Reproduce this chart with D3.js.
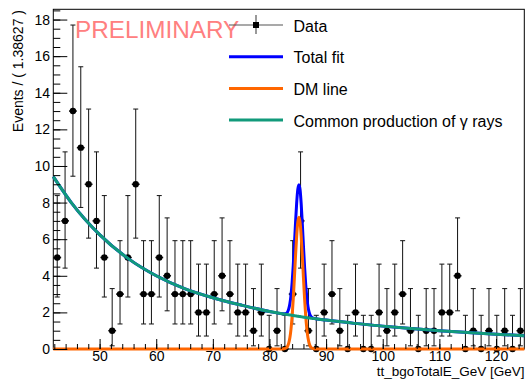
<!DOCTYPE html>
<html>
<head>
<meta charset="utf-8">
<script src="https://cdn.jsdelivr.net/npm/d3@7"></script>
<style>
  body { margin: 0; background: #fff; }
  text { font-family: "Liberation Sans", Arial, sans-serif; }
</style>
</head>
<body>
<div id="plot"></div>
<script>
// Binned data (60 bins of 1.38627 GeV ending at 125 GeV)
var binWidth = 1.38627;
var xMax = 125;
var counts = [5, 7, 13, 11, 9, 7, 5, 1, 3, 5,
              9, 3, 3, 5, 4, 3, 3, 3, 2, 2,
              3, 4, 3, 2, 2, 1, 2, 0, 1, 0,
              3, 7, 1, 0, 2, 3, 1, 0, 2, 0,
              0, 2, 1, 2, 3, 1, 0, 1, 1, 2,
              2, 4, 0, 1, 0, 1, 0, 1, 0, 1];

// Poisson (Garwood 68%) interval ends, indexed by count
var poissonLow  = [0, 0.173, 0.708, 1.367, 2.086, 2.840, 3.620, 4.419, 5.232, 6.057, 6.891, 7.734, 8.585, 9.441];
var poissonHigh = [1.841, 3.300, 4.638, 5.918, 7.163, 8.382, 9.584, 10.77, 11.95, 13.11, 14.27, 15.42, 16.56, 17.70];

// Fit curves
var fitX  = [41.82, 45, 50, 55, 60, 65, 70, 75, 80, 82.2, 82.6, 82.8, 83.0, 83.2, 83.4, 83.6, 83.8, 84.0, 84.2, 84.4, 84.6, 84.8, 85.0,
             85.2, 85.4, 85.6, 85.8, 86.0, 86.2, 86.4, 86.6, 86.8, 87.0, 87.2, 87.4, 87.6, 87.8, 88.2, 90, 95, 100, 105, 110, 115, 120, 125];
var bgFit = [9.42, 8.0, 6.25, 4.95, 4.0, 3.3, 2.8, 2.4, 2.05, 1.93, 1.91, 1.9, 1.89, 1.88, 1.87, 1.86, 1.85, 1.84, 1.83, 1.82, 1.81, 1.8, 1.79,
             1.78, 1.77, 1.76, 1.75, 1.74, 1.73, 1.72, 1.71, 1.7, 1.7, 1.69, 1.68, 1.67, 1.67, 1.65, 1.58, 1.4, 1.25, 1.12, 1.0, 0.9, 0.81, 0.73];
var dmFit = [0, 0, 0, 0, 0, 0, 0, 0, 0, 0, 0.01, 0.03, 0.07, 0.15, 0.32, 0.61, 1.09, 1.80, 2.74, 3.88, 5.09, 6.17, 6.93,
             7.2, 6.93, 6.17, 5.09, 3.88, 2.74, 1.80, 1.09, 0.61, 0.32, 0.15, 0.07, 0.03, 0.01, 0, 0, 0, 0, 0, 0, 0, 0, 0];

var legendLabels = ["Data", "Total fit", "DM line", "Common production of \u03b3 rays"];
var legendColors = ["#555", "#0000ff", "#ff6600", "#119a7b"];

// Set dimensions and margins
var margin = {top: 9.3, right: 1.7, bottom: 30, left: 53.3};
var width = 526 - margin.left - margin.right;
var height = 379 - margin.top - margin.bottom;

var svg = d3.select("#plot")
    .append("svg")
    .attr("width", 526)
    .attr("height", 379);

var chartGroup = svg.append("g")
    .attr("transform", `translate(${margin.left}, ${margin.top})`);

var xMin = xMax - counts.length * binWidth;
var x = d3.scaleLinear().domain([xMin, xMax]).range([0, width]);
var y = d3.scaleLinear().domain([0, 18.56]).range([height, 0]);

var data = counts.map(function(n, i) {
    return {x: xMin + (i + 0.5) * binWidth, n: n, lo: poissonLow[n], hi: poissonHigh[n]};
});

// Frame
chartGroup.append("rect")
    .attr("width", width)
    .attr("height", height)
    .attr("fill", "none")
    .attr("stroke", "#000")
    .attr("stroke-width", 1);

// PRELIMINARY stamp
chartGroup.append("text")
    .attr("x", 75 - margin.left)
    .attr("y", 38 - margin.top)
    .attr("font-size", 24.3)
    .attr("fill", "#ff8080")
    .text("PRELIMINARY");

// Data points with error bars
var pts = chartGroup.append("g").attr("stroke", "#111").attr("stroke-width", 1);
pts.selectAll(".vbar").data(data).enter().append("line")
    .attr("x1", d => x(d.x)).attr("x2", d => x(d.x))
    .attr("y1", d => y(d.lo)).attr("y2", d => y(d.hi));
pts.selectAll(".cap-hi").data(data).enter().append("line")
    .attr("x1", d => x(d.x) - 2.5).attr("x2", d => x(d.x) + 2.5)
    .attr("y1", d => y(d.hi)).attr("y2", d => y(d.hi));
pts.selectAll(".cap-lo").data(data.filter(d => d.n > 0)).enter().append("line")
    .attr("x1", d => x(d.x) - 2.5).attr("x2", d => x(d.x) + 2.5)
    .attr("y1", d => y(d.lo)).attr("y2", d => y(d.lo));
pts.selectAll(".hbar").data(data).enter().append("line")
    .attr("x1", d => x(d.x - binWidth / 2)).attr("x2", d => x(d.x + binWidth / 2))
    .attr("y1", d => y(d.n)).attr("y2", d => y(d.n))
    .attr("stroke-width", 1.5);
chartGroup.selectAll(".marker").data(data).enter().append("circle")
    .attr("cx", d => x(d.x))
    .attr("cy", d => y(d.n))
    .attr("r", 3.2)
    .attr("fill", "#000");

// Fit curves
var fitPts = fitX.map(function(v, i) {
    return {x: v, bg: bgFit[i], dm: dmFit[i], tot: bgFit[i] + dmFit[i]};
});
function curve(key) {
    return d3.line().x(d => x(d.x)).y(d => y(d[key])).curve(d3.curveMonotoneX);
}
[["tot", legendColors[1]], ["dm", legendColors[2]], ["bg", legendColors[3]]].forEach(function(c) {
    chartGroup.append("path")
        .datum(fitPts)
        .attr("d", curve(c[0]))
        .attr("fill", "none")
        .attr("stroke", c[1])
        .attr("stroke-width", 3);
});

// Axes (ROOT style ticks pointing inside)
var xAxis = chartGroup.append("g")
    .attr("transform", `translate(0, ${height})`)
    .call(d3.axisBottom(x).tickValues(d3.range(50, 121, 10)).tickSize(-10).tickPadding(2.5));
chartGroup.append("g")
    .attr("transform", `translate(0, ${height})`)
    .call(d3.axisBottom(x).tickValues(d3.range(42, 125, 2)).tickSize(-5).tickFormat(""));
var yAxis = chartGroup.append("g")
    .call(d3.axisLeft(y).tickValues(d3.range(0, 19, 2)).tickSize(-14).tickPadding(3.3));
chartGroup.append("g")
    .call(d3.axisLeft(y).tickValues(d3.range(0, 18.56, 0.5)).tickSize(-7).tickFormat(""));

chartGroup.selectAll(".domain").remove();
chartGroup.selectAll(".tick text")
    .attr("font-size", 14)
    .attr("font-family", "'Liberation Sans', Arial, sans-serif")
    .attr("fill", "#000");
chartGroup.selectAll(".tick line").attr("stroke", "#000");

// Axis titles
svg.append("text")
    .attr("x", 524.5)
    .attr("y", 376)
    .attr("text-anchor", "end")
    .attr("font-size", 13.5)
    .text("tt_bgoTotalE_GeV [GeV]");

svg.append("text")
    .attr("transform", "translate(22.5, 10) rotate(-90)")
    .attr("text-anchor", "end")
    .attr("font-size", 14)
    .text("Events / ( 1.38627 )");

// Legend
var legend = svg.append("g");
legendLabels.forEach(function(label, i) {
    var ly = 25 + i * 31.7;
    legend.append("line")
        .attr("x1", 229).attr("x2", 283)
        .attr("y1", ly).attr("y2", ly)
        .attr("stroke", legendColors[i])
        .attr("stroke-width", i === 0 ? 1.2 : 3);
    if (i === 0) {
        legend.append("line")
            .attr("x1", 256).attr("x2", 256)
            .attr("y1", ly - 10).attr("y2", ly + 9)
            .attr("stroke", "#555").attr("stroke-width", 1.2);
        legend.append("rect")
            .attr("x", 253).attr("y", ly - 3)
            .attr("width", 6).attr("height", 6)
            .attr("fill", "#000");
    }
    legend.append("text")
        .attr("x", 293.5)
        .attr("y", ly + 6.6)
        .attr("font-size", 16)
        .text(label);
});
</script>
</body>
</html>
